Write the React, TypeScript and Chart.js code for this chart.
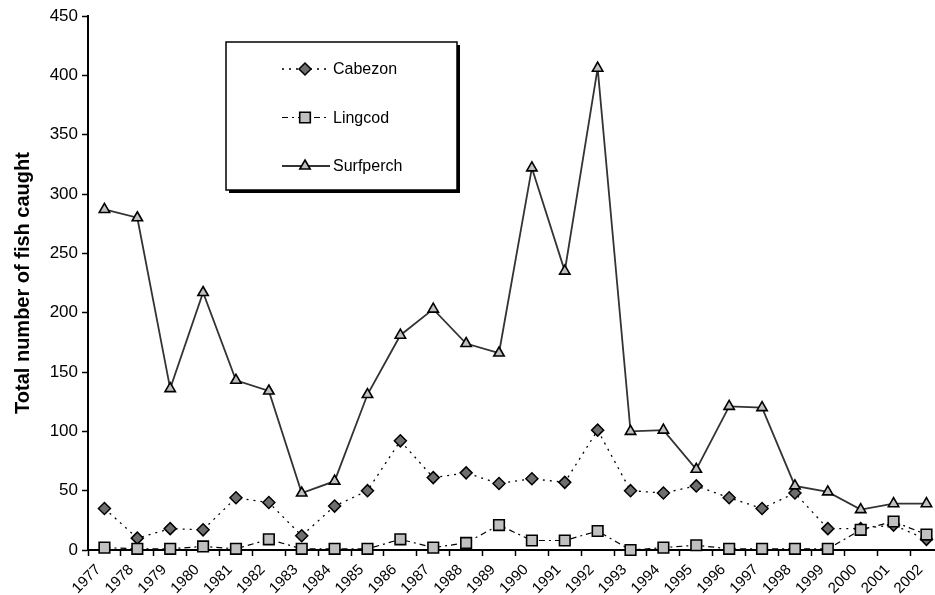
import React, { useEffect, useRef } from 'react';
import { Chart, registerables } from 'chart.js';
import { drawPoint } from 'chart.js/helpers';

Chart.register(...registerables);

const years = ['1977','1978','1979','1980','1981','1982','1983','1984','1985','1986','1987','1988','1989','1990','1991','1992','1993','1994','1995','1996','1997','1998','1999','2000','2001','2002'];
const cabezon = [35, 10, 18, 17, 44, 40, 12, 37, 50, 92, 61, 65, 56, 60, 57, 101, 50, 48, 54, 44, 35, 48, 18, 18, 21, 9];
const lingcod = [2, 1, 1, 3, 1, 9, 1, 1, 1, 9, 2, 6, 21, 8, 8, 16, 0, 2, 4, 1, 1, 1, 1, 17, 24, 13];
const surfperch = [287, 280, 136, 217, 143, 134, 48, 58, 131, 181, 203, 174, 166, 322, 235, 406, 100, 101, 68, 121, 120, 54, 49, 34, 39, 39];
const yMin = 0;
const yMax = 450;
const yStep = 50;
const yTitle = 'Total number of fish caught';

const FONT = '"Liberation Sans", Arial, Helvetica, sans-serif';

const legendBox = {
  id: 'legendBox',
  afterDatasetsDraw(chart: any) {
    const ctx = chart.ctx as CanvasRenderingContext2D;
    const x0 = 226, y0 = 42, w = 231, h = 148;
    ctx.save();
    ctx.setLineDash([]);
    ctx.fillStyle = '#000';
    ctx.fillRect(x0 + 3, y0 + 3, w, h);
    ctx.fillStyle = '#fff';
    ctx.fillRect(x0, y0, w, h);
    ctx.strokeStyle = '#000';
    ctx.lineWidth = 1.5;
    ctx.strokeRect(x0, y0, w, h);
    const order = [0, 1, 2];
    order.forEach((di, i) => {
      const ds = chart.data.datasets[di];
      const y = 69 + i * 48.5;
      ctx.save();
      ctx.strokeStyle = ds.borderColor;
      ctx.lineWidth = ds.borderWidth;
      ctx.setLineDash(ds.borderDash || []);
      ctx.beginPath();
      ctx.moveTo(282, y);
      ctx.lineTo(330, y);
      ctx.stroke();
      ctx.setLineDash([]);
      ctx.fillStyle = ds.pointBackgroundColor;
      ctx.strokeStyle = ds.pointBorderColor;
      ctx.lineWidth = ds.pointBorderWidth;
      drawPoint(ctx, { pointStyle: ds.pointStyle, radius: ds.pointRadius, borderWidth: ds.pointBorderWidth, rotation: 0 } as any, 305, y);
      ctx.fillStyle = '#000';
      ctx.font = `16px ${FONT}`;
      ctx.textAlign = 'left';
      ctx.textBaseline = 'middle';
      ctx.fillText(ds.label, 333, y + 1);
      ctx.restore();
    });
    ctx.restore();
  },
};

export default function App() {
  const ref = useRef<HTMLCanvasElement | null>(null);
  useEffect(() => {
    if (!ref.current) return;
    const chart = new Chart(ref.current, {
      type: 'line',
      data: {
        labels: years,
        datasets: [
          {
            label: 'Cabezon',
            data: cabezon,
            borderColor: '#000',
            borderWidth: 1.3,
            borderDash: [2, 5],
            pointStyle: 'rectRot',
            pointRadius: 6,
            pointBackgroundColor: '#6e6e6e',
            pointBorderColor: '#000',
            pointBorderWidth: 1.5,
            tension: 0,
            clip: false,
            order: 3,
          } as any,
          {
            label: 'Lingcod',
            data: lingcod,
            borderColor: '#000',
            borderWidth: 1.2,
            borderDash: [6, 4, 2, 4],
            pointStyle: 'rect',
            pointRadius: 7.5,
            pointBackgroundColor: '#c0c0c0',
            pointBorderColor: '#000',
            pointBorderWidth: 1.6,
            tension: 0,
            clip: false,
            order: 2,
          } as any,
          {
            label: 'Surfperch',
            data: surfperch,
            borderColor: '#333',
            borderWidth: 1.8,
            pointStyle: 'triangle',
            pointRadius: 6,
            pointBackgroundColor: '#c0c0c0',
            pointBorderColor: '#000',
            pointBorderWidth: 1.6,
            tension: 0,
            clip: false,
            order: 1,
          } as any,
        ],
      },
      options: {
        animation: false,
        responsive: true,
        maintainAspectRatio: false,
        layout: { padding: { top: 16, right: 8, left: 0, bottom: 0 } },
        plugins: {
          legend: { display: false },
          tooltip: { enabled: false },
        },
        scales: {
          x: {
            type: 'category',
            offset: true,
            grid: {
              offset: true,
              drawOnChartArea: false,
              drawTicks: true,
              tickLength: 6,
              tickColor: '#000',
              tickWidth: 1.5,
            },
            border: { color: '#000', width: 2 },
            ticks: {
              autoSkip: false,
              minRotation: 45,
              maxRotation: 45,
              color: '#000',
              padding: 5,
              labelOffset: -6,
              font: { family: FONT, size: 15 },
            },
            afterFit(s: any) { s.height = 45; },
          },
          y: {
            min: yMin,
            max: yMax,
            ticks: {
              stepSize: yStep,
              color: '#000',
              padding: 4,
              font: { family: FONT, size: 17 },
            },
            grid: {
              drawOnChartArea: false,
              drawTicks: true,
              tickLength: 6,
              tickColor: '#000',
              tickWidth: 1.5,
            },
            border: { color: '#000', width: 2 },
            title: {
              display: true,
              text: yTitle,
              color: '#000',
              font: { family: FONT, size: 20, weight: 'bold' },
              padding: { top: 11, bottom: 0 },
            },
            afterFit(s: any) { s.width = 88; },
          },
        },
      },
      plugins: [legendBox],
    });
    return () => chart.destroy();
  }, []);
  return (
    <div style={{ position: 'fixed', left: 0, top: 0, width: 935, height: 595, overflow: 'hidden', background: '#fff' }}>
      <div style={{ position: 'relative', width: 952, height: 595 }}>
        <canvas ref={ref} />
      </div>
    </div>
  );
}
